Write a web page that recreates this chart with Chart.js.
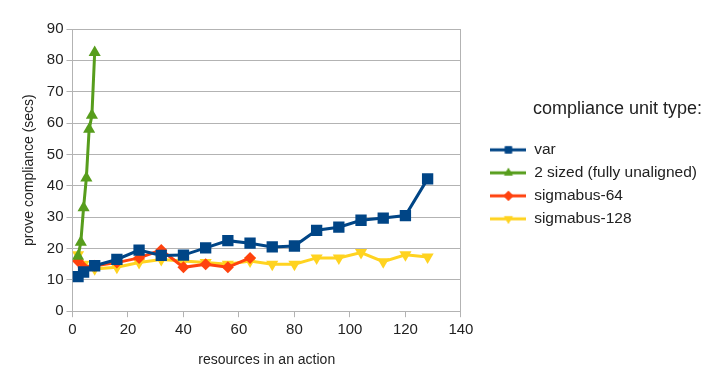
<!DOCTYPE html>
<html>
<head>
<meta charset="utf-8">
<script src="https://cdn.jsdelivr.net/npm/chart.js@4/dist/chart.umd.min.js"></script>
<style>
  html, body { margin: 0; padding: 0; background: #fff; }
  #wrap { width: 708px; height: 388px; }
</style>
</head>
<body>
<div id="wrap"><canvas id="myChart" width="708" height="388"></canvas></div>
<script>
var varX = [2,4,8,16,24,32,40,48,56,64,72,80,88,96,104,112,120,128];
var varY = [11,12.5,14.5,16.5,19.5,17.8,17.9,20.2,22.5,21.7,20.5,20.8,25.8,26.8,29,29.7,30.5,42.2];

var twoX = [2,3,4,5,6,7,8];
var twoY = [17.5,22,33,42.5,58,62.5,82.5];

var sb64X = [2,4,8,16,24,32,40,48,56,64];
var sb64Y = [16,14,14.5,15.5,17,19.5,14,15,14,17];

var sb128X = [2,4,8,16,24,32,40,48,56,64,72,80,88,96,104,112,120,128];
var sb128Y = [18,15,13.5,14,15.5,16.5,16,15.5,15,16,15,15,17,17,18.7,15.8,18,17.3];

var font = "'Liberation Sans', Arial, sans-serif";

function pts(xs, ys) {
  return xs.map(function (x, i) { return {x: x, y: ys[i]}; });
}

// little line + marker picture for the legend
function legendIcon(color, style, rot) {
  var c = document.createElement('canvas');
  c.width = 36; c.height = 14;
  var ctx = c.getContext('2d');
  ctx.strokeStyle = color;
  ctx.lineWidth = 3;
  ctx.beginPath();
  ctx.moveTo(0, 7); ctx.lineTo(36, 7);
  ctx.stroke();
  ctx.fillStyle = color;
  Chart.helpers.drawPoint(ctx, {pointStyle: style, rotation: rot || 0, radius: 5, borderWidth: 0}, 18, 7);
  ctx.fill();
  return c;
}

var series = [
  {label: 'var', data: pts(varX, varY), color: '#004586', style: 'rect', r: 8, rot: 0},
  {label: '2 sized (fully unaligned)', data: pts(twoX, twoY), color: '#579d1c', style: 'triangle', r: 7, rot: 0},
  {label: 'sigmabus-64', data: pts(sb64X, sb64Y), color: '#ff420e', style: 'rectRot', r: 6, rot: 0},
  {label: 'sigmabus-128', data: pts(sb128X, sb128Y), color: '#ffd320', style: 'triangle', r: 7, rot: 180}
];

var datasets = series.map(function (s) {
  return {
    label: s.label,
    data: s.data,
    borderColor: s.color,
    backgroundColor: s.color,
    borderWidth: 3,
    pointStyle: s.style,
    pointRotation: s.rot,
    pointRadius: s.r,
    pointBorderWidth: 0,
    pointHoverRadius: s.r,
    fill: false,
    tension: 0
  };
});

var icons = series.map(function (s) {
  return legendIcon(s.color, s.style, s.rot);
});

new Chart("myChart", {
  type: "line",
  data: {datasets: datasets},
  options: {
    responsive: false,
    animation: false,
    layout: {padding: {top: 29, right: 1, bottom: 15, left: 17}},
    plugins: {
      tooltip: {enabled: false},
      legend: {
        display: true,
        position: 'right',
        align: 'start',
        fullSize: false,
        maxWidth: 260,
        title: {
          display: true,
          text: 'compliance unit type:\u00a0',
          position: 'end',
          color: '#222',
          font: {family: font, size: 18},
          padding: {top: 71, bottom: 13}
        },
        labels: {
          usePointStyle: true,
          pointStyleWidth: 36,
          padding: 7.5,
          color: '#222',
          font: {family: font, size: 15.5},
          generateLabels: function (chart) {
            return chart.data.datasets.map(function (ds, i) {
              return {
                text: ds.label,
                pointStyle: icons[i],
                fillStyle: ds.borderColor,
                strokeStyle: ds.borderColor,
                lineWidth: 0,
                datasetIndex: i,
                fontColor: '#222'
              };
            });
          }
        }
      }
    },
    scales: {
      x: {
        type: 'linear',
        min: 0,
        max: 140,
        ticks: {stepSize: 20, color: '#222', font: {family: font, size: 15}, padding: 4},
        grid: {drawOnChartArea: false, color: '#b3b3b3', tickLength: 6},
        border: {color: '#b3b3b3'},
        title: {display: true, text: 'resources in an action', color: '#222', font: {family: font, size: 14}, padding: {top: 9}}
      },
      y: {
        min: 0,
        max: 90,
        ticks: {stepSize: 10, color: '#222', font: {family: font, size: 15}, padding: 3},
        grid: {color: '#b3b3b3', tickLength: 6},
        border: {color: '#b3b3b3'},
        title: {display: true, text: 'prove compliance (secs)', color: '#222', font: {family: font, size: 14}, padding: {bottom: 6}}
      },
      y2: {
        position: 'right',
        min: 0,
        max: 90,
        ticks: {display: false},
        grid: {drawOnChartArea: false, drawTicks: false},
        border: {color: '#b3b3b3'},
        afterFit: function (scale) { scale.width = 22; }
      }
    }
  }
});
</script>
</body>
</html>
